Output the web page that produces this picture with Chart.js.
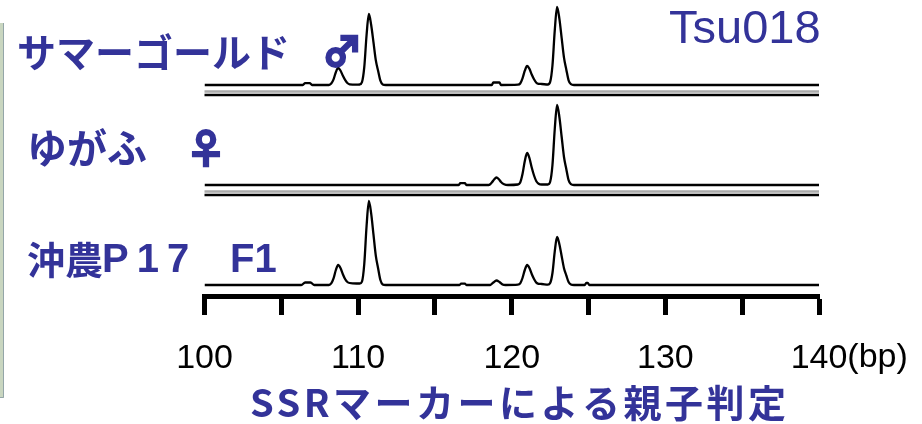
<!DOCTYPE html>
<html>
<head>
<meta charset="utf-8">
<script src="https://cdn.jsdelivr.net/npm/chart.js@4.4.0/dist/chart.umd.min.js"></script>
<style>
html, body { margin: 0; padding: 0; background: #fff; }
canvas { display: block; }
</style>
</head>
<body>
<canvas id="myChart" width="922" height="424"></canvas>
<script>
const BLUE = '#333399';

const sampleNames = ['サマーゴールド', 'ゆがふ', '沖農P17'];
const sampleTags = ['♂', '♀', 'F1'];
const markerName = 'Tsu018';
const xTicks = [100, 105, 110, 115, 120, 125, 130, 135, 140];
const xUnit = '(bp)';
const chartTitle = 'SSRマーカーによる親子判定';

// [fragment size (bp), signal height]
const summerGold = [
  [100, 0], [106.4, 0], [106.55, 1.8], [106.85, 1.8], [107, 0],
  [108.1, 0], [108.25, 1.4], [108.4, 5.6], [108.55, 12.8], [108.7, 17], [108.85, 14.5], [109, 9.4], [109.15, 5.1], [109.3, 2], [109.45, 0.7],
  [109.9, 0.3], [110.1, 0.5], [110.25, 2.8], [110.4, 17.8], [110.55, 50], [110.7, 71], [110.85, 60], [111, 42.6], [111.15, 24.9], [111.3, 14.2], [111.45, 4.3], [111.6, 0.5], [111.8, 0],
  [118.7, 0], [118.8, 2.5], [119.2, 2.5], [119.3, 0],
  [120.4, 0.3], [120.55, 1.5], [120.7, 6.7], [120.85, 14.3], [121, 19], [121.15, 16.2], [121.3, 10.5], [121.45, 5.7], [121.6, 2.3], [121.75, 1.2], [121.95, 1],
  [122.35, 0.5], [122.5, 3.1], [122.65, 19.5], [122.8, 54.6], [122.95, 78], [123.1, 66.3], [123.25, 46.8], [123.4, 27.3], [123.55, 15.6], [123.7, 4.7], [123.85, 0.8], [124.05, 0],
  [140, 0]
];
const yugafu = [
  [100, 0], [116.55, 0], [116.65, 1.8], [116.95, 1.8], [117.05, 0],
  [118.5, 0], [118.7, 2.5], [118.85, 5.5], [119, 7.5], [119.15, 6], [119.3, 3], [119.5, 0.8], [119.75, 0],
  [120.4, 0.5], [120.55, 2.5], [120.7, 11], [120.85, 24], [121, 32], [121.15, 27], [121.3, 17.5], [121.45, 9.5], [121.6, 3.8], [121.75, 1.3], [121.95, 0.5],
  [122.35, 0.5], [122.5, 3.2], [122.65, 20], [122.8, 56], [122.95, 80], [123.1, 68], [123.25, 48], [123.4, 28], [123.55, 16], [123.7, 4.8], [123.85, 0.8], [124.05, 0],
  [140, 0]
];
const okinoF1 = [
  [100, 0], [106.3, 0], [106.55, 2.5], [106.9, 2.5], [107.15, 0],
  [108.1, 0], [108.25, 1.6], [108.4, 6.6], [108.55, 15], [108.7, 20], [108.85, 17], [109, 11], [109.15, 6], [109.3, 3], [109.45, 2],
  [109.9, 1.5], [110.1, 1.5], [110.25, 3.4], [110.4, 21], [110.55, 59], [110.7, 84], [110.85, 71.4], [111, 50.4], [111.15, 29.4], [111.3, 16.8], [111.45, 5], [111.6, 0.6], [111.8, 0],
  [116.6, 0], [116.7, 1.3], [116.95, 1.3], [117.05, 0],
  [118.6, 0], [118.8, 2.5], [119, 4.5], [119.2, 3], [119.4, 0.5], [119.6, 0],
  [120.4, 0.3], [120.55, 1.6], [120.7, 7], [120.85, 15], [121, 20], [121.15, 17], [121.3, 11], [121.45, 6], [121.6, 2.4], [121.75, 1.2], [121.95, 1],
  [122.35, 0.3], [122.5, 1.9], [122.65, 12], [122.8, 33.6], [122.95, 48], [123.1, 40.8], [123.25, 28.8], [123.4, 16.8], [123.55, 9.6], [123.7, 2.9], [123.85, 0.5], [124.05, 0],
  [124.75, 0], [124.85, 2], [124.95, 2], [125.05, 0],
  [140, 0]
];

const traces = [summerGold, yugafu, okinoF1];

function toPoints(arr) {
  return arr.map(p => ({x: p[0], y: p[1]}));
}

// labels, separators and title drawn on top of the chart
const decor = {
  id: 'decor',
  beforeDatasetsDraw(chart) {
    const {ctx, scales: {x}} = chart;
    const x0 = x.getPixelForValue(100), x1 = x.getPixelForValue(140);
    ctx.save();
    ['y1', 'y2'].forEach(id => {
      const s = chart.scales[id];
      ctx.strokeStyle = '#aaaaaa';
      ctx.lineWidth = 2.3;
      ctx.beginPath();
      ctx.moveTo(x0, s.getPixelForValue(-6.5));
      ctx.lineTo(x1, s.getPixelForValue(-6.5));
      ctx.stroke();
      ctx.strokeStyle = '#000';
      ctx.lineWidth = 2.7;
      ctx.beginPath();
      ctx.moveTo(x0, s.getPixelForValue(-10));
      ctx.lineTo(x1, s.getPixelForValue(-10));
      ctx.stroke();
    });
    ctx.restore();
  },
  afterDraw(chart) {
    const {ctx, scales: {x}} = chart;
    ctx.save();

    // left frame edge
    ctx.fillStyle = '#c9d6c0';
    ctx.fillRect(0, 23, 4, 375);
    ctx.strokeStyle = '#94a6a8';
    ctx.lineWidth = 1;
    ctx.beginPath();
    ctx.moveTo(3.5, 23);
    ctx.lineTo(3.5, 397.5);
    ctx.lineTo(0, 397.5);
    ctx.stroke();

    ctx.fillStyle = BLUE;
    ctx.strokeStyle = BLUE;
    ctx.textBaseline = 'middle';
    ctx.textAlign = 'left';

    ctx.font = 'bold 39px "Noto Sans CJK JP"';
    ctx.fillText(sampleNames[0], 17, 52);
    ctx.font = 'bold 40px "Noto Sans CJK JP", "DejaVu Sans"';
    ctx.lineWidth = 2.2;
    ctx.fillText(sampleTags[0], 322, 51);
    ctx.strokeText(sampleTags[0], 322, 51);

    ctx.font = 'bold 40px "Noto Sans CJK JP"';
    ctx.fillText(sampleNames[1], 27, 148);
    ctx.font = 'bold 40px "Noto Sans CJK JP", "DejaVu Sans"';
    ctx.fillText(sampleTags[1], 186, 148);
    ctx.strokeText(sampleTags[1], 186, 148);

    ctx.font = 'bold 38px "Noto Sans CJK JP"';
    ctx.fillText(sampleNames[2].slice(0, 2), 27, 260);
    ctx.font = 'bold 40px "Liberation Sans"';
    ctx.letterSpacing = '8px';
    ctx.fillText(sampleNames[2].slice(2), 102, 261);
    ctx.letterSpacing = '0px';
    ctx.fillText(sampleTags[2], 230, 261);

    ctx.font = '47px "Liberation Sans"';
    ctx.textBaseline = 'alphabetic';
    ctx.fillText(markerName, 669, 43);

    // unit after the last tick label
    ctx.fillStyle = '#000';
    ctx.font = '34px "Liberation Sans"';
    ctx.textBaseline = 'middle';
    const lastPx = x.getPixelForValue(140);
    ctx.fillText(xUnit, lastPx + ctx.measureText('140').width / 2, 358);

    ctx.fillStyle = BLUE;
    ctx.font = 'bold 38px "Noto Sans CJK JP"';
    ctx.textAlign = 'left';
    ctx.letterSpacing = '3.5px';
    ctx.fillText(chartTitle, 250, 403);
    ctx.restore();
  }
};

const datasets = traces.map((t, i) => ({
  data: toPoints(t),
  yAxisID: 'y' + (i + 1),
  borderColor: '#000',
  borderWidth: 2.3,
  pointRadius: 0,
  fill: false,
  cubicInterpolationMode: 'monotone'
}));

new Chart(document.getElementById('myChart').getContext('2d'), {
  type: 'line',
  data: { datasets: datasets },
  options: {
    responsive: false,
    animation: false,
    devicePixelRatio: 1,
    layout: { padding: { left: 204.5, right: 103, top: 0, bottom: 0 } },
    plugins: {
      legend: { display: false },
      tooltip: { enabled: false }
    },
    scales: {
      x: {
        type: 'linear',
        position: 'bottom',
        min: 100,
        max: 140,
        afterFit: function (scale) { scale.height = 128; },
        afterBuildTicks: function (scale) {
          scale.ticks = xTicks.map(v => ({ value: v }));
        },
        ticks: {
          autoSkip: false,
          maxRotation: 0,
          padding: 23,
          color: '#000',
          font: { family: '"Liberation Sans"', size: 34 },
          callback: function (value) {
            return value % 10 === 0 ? String(value) : '';
          }
        },
        grid: {
          drawOnChartArea: false,
          tickLength: 19,
          tickWidth: 5,
          tickColor: '#000'
        },
        border: { display: true, width: 5, color: '#000' }
      },
      y1: { display: false, min: -211, max: 85 },
      y2: { display: false, min: -111, max: 185 },
      y3: { display: false, min: -11, max: 285 }
    }
  },
  plugins: [decor]
});
</script>
</body>
</html>
